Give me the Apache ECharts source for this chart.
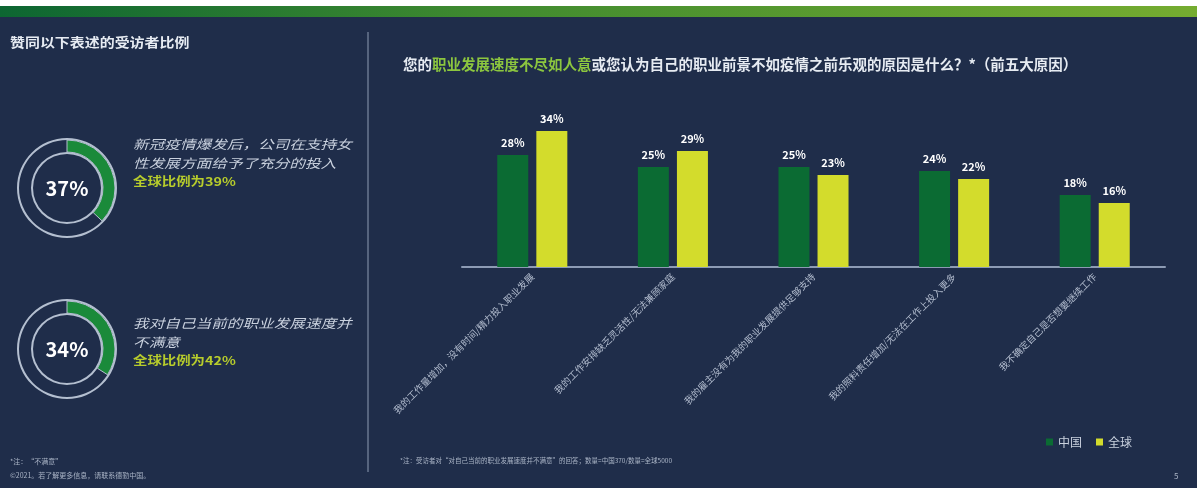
<!DOCTYPE html>
<html>
<head>
<meta charset="utf-8">
<script src="https://cdn.jsdelivr.net/npm/echarts@6/dist/echarts.min.js"></script>
<style>
  html, body {margin: 0; padding: 0; background: #1f2d4a;}
  #main {width: 1197px; height: 488px;}
</style>
</head>
<body>
<div id="main"></div>
<script>
// reasons (top five), China vs global
const categories = [
  "我的工作量增加，没有时间/精力投入职业发展",
  "我的工作安排缺乏灵活性/无法兼顾家庭",
  "我的雇主没有为我的职业发展提供足够支持",
  "我的照料责任增加/无法在工作上投入更多",
  "我不确定自己是否想要继续工作"
];
const chinaValues = [28, 25, 25, 24, 18];
const globalValues = [34, 29, 23, 22, 16];

// left panel donuts
const donutValues = [37, 34];
const donutGlobal = [39, 42];
const donutLines = [
  ["新冠疫情爆发后，公司在支持女", "性发展方面给予了充分的投入"],
  ["我对自己当前的职业发展速度并", "不满意"]
];

const FONT = "'Noto Sans CJK SC', 'Noto Sans', sans-serif";
const NAVY = "#1f2d4a";
const DARK_GREEN = "#0b6b33";
const LIME = "#d3dc2c";
const RING = "#b4bfd0";

const chart = echarts.init(document.getElementById("main"));

const donutCenters = [[67, 188], [67, 349]];

function donutSeries(i) {
  const c = donutCenters[i];
  return [
    {type: "pie", center: c, radius: [48, 50], silent: true, label: {show: false},
      itemStyle: {color: RING}, data: [1], animation: false},
    {type: "pie", center: c, radius: [34, 36], silent: true, label: {show: false},
      itemStyle: {color: RING}, data: [1], animation: false},
    {type: "pie", center: c, radius: [36, 48], silent: true, startAngle: 90, label: {show: false},
      animation: false,
      data: [
        {value: donutValues[i], itemStyle: {color: "#1a8a3a", borderColor: RING, borderWidth: 1}},
        {value: 100 - donutValues[i], itemStyle: {color: "transparent"}}
      ]}
  ];
}

const graphics = [
  // top stripe
  {type: "rect", shape: {x: 0, y: 0, width: 1197, height: 6}, style: {fill: "#ffffff"}, silent: true},
  {type: "rect", shape: {x: 0, y: 6, width: 1197, height: 11}, silent: true,
    style: {fill: new echarts.graphic.LinearGradient(0, 0, 1, 0, [
      {offset: 0, color: "#0d6632"}, {offset: 0.4, color: "#3f8a2f"}, {offset: 1, color: "#75ac30"}
    ])}},
  // divider
  {type: "rect", shape: {x: 367, y: 32, width: 2, height: 440}, style: {fill: "#56647e"}, silent: true},
  // left heading
  {type: "text", x: 10, y: 36, scaleX: 1.15, silent: true,
    style: {text: "赞同以下表述的受访者比例", fill: "#e6ebf2", fontSize: 13, fontWeight: "bold", fontFamily: FONT}},
  // footnotes
  {type: "text", x: 10, y: 458, silent: true,
    style: {text: "*注：“不满意”", fill: "#aab4c6", fontSize: 7, fontFamily: FONT}},
  {type: "text", x: 10, y: 472, silent: true,
    style: {text: "©2021。若了解更多信息，请联系德勤中国。", fill: "#aab4c6", fontSize: 7, fontFamily: FONT}},
  {type: "text", x: 400, y: 457, silent: true,
    style: {text: "*注：受访者对“对自己当前的职业发展速度并不满意”的回答；数量=中国370/数量=全球5000", fill: "#aab4c6", fontSize: 6.5, fontFamily: FONT}},
  {type: "text", x: 1174, y: 472, silent: true,
    style: {text: "5", fill: "#aab4c6", fontSize: 8, fontFamily: FONT}}
];

donutCenters.forEach((c, i) => {
  graphics.push({type: "text", x: c[0], y: c[1], silent: true,
    style: {text: donutValues[i] + "%", fill: "#ffffff", fontSize: 20, fontWeight: "bold",
      fontFamily: FONT, align: "center", verticalAlign: "middle"}});
  const top = i === 0 ? 138 : 317;
  donutLines[i].forEach((line, k) => {
    graphics.push({type: "text", x: 133, y: top + k * 18.5, scaleX: 1.25, silent: true,
      style: {text: line, fill: "#c9d1de", fontSize: 12.5, fontStyle: "italic", fontFamily: FONT}});
  });
  graphics.push({type: "text", x: 133, y: top + donutLines[i].length * 18.5, scaleX: 1.2, silent: true,
    style: {text: "全球比例为" + donutGlobal[i] + "%", fill: "#b7cc2c", fontSize: 12,
      fontWeight: "bold", fontFamily: FONT}});
});

const barLabel = {show: true, position: "top", distance: 7, color: "#ffffff",
  fontSize: 11, fontWeight: "bold", fontFamily: FONT, formatter: "{c}%"};

const option = {
  backgroundColor: NAVY,
  animation: false,
  title: {
    left: 398, top: 52,
    text: "{a|您的}{g|职业发展速度不尽如人意}{a|或您认为自己的职业前景不如疫情之前乐观的原因是什么？*（前五大原因）}",
    textStyle: {
      rich: {
        a: {color: "#e6ebf2", fontSize: 14.5, fontWeight: "bold", fontFamily: FONT},
        g: {color: "#8cc63f", fontSize: 14.5, fontWeight: "bold", fontFamily: FONT}
      }
    }
  },
  legend: {
    right: 60, top: 431, icon: "rect", itemWidth: 7, itemHeight: 7, itemGap: 14,
    textStyle: {color: "#c9d1de", fontSize: 12, fontFamily: FONT},
    data: ["中国", "全球"]
  },
  grid: {left: 462, right: 32, top: 107, bottom: 221},
  xAxis: {
    type: "category",
    data: categories,
    axisLine: {lineStyle: {color: "#8d9bb4", width: 2}},
    axisTick: {show: false},
    axisLabel: {rotate: 45, interval: 0, color: "#b3bdcf", fontSize: 9.5, fontFamily: FONT, margin: 8}
  },
  yAxis: {type: "value", min: 0, max: 40, show: false, splitLine: {show: false}},
  graphic: graphics,
  series: [
    {name: "中国", type: "bar", data: chinaValues, barWidth: 31, barGap: "26%",
      itemStyle: {color: DARK_GREEN}, label: barLabel},
    {name: "全球", type: "bar", data: globalValues, barWidth: 31,
      itemStyle: {color: LIME}, label: barLabel},
    ...donutSeries(0),
    ...donutSeries(1)
  ]
};

chart.setOption(option);
</script>
</body>
</html>
